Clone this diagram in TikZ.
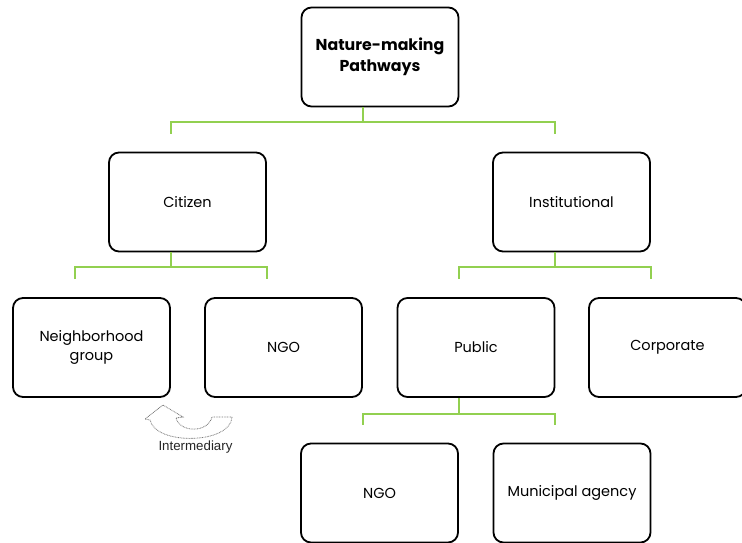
\documentclass[tikz,border=0pt]{standalone}
\usepackage{fontspec}
\setmainfont{Poppins}
\newfontfamily\smallsans{Liberation Sans}
\definecolor{lgreen}{RGB}{146,208,80}
\definecolor{dotgray}{RGB}{120,120,120}
\begin{document}
\begin{tikzpicture}[x=1pt,y=-1pt,
  box/.style={draw=black,line width=1.8pt,rounded corners=10pt,minimum width=157pt,minimum height=99pt,align=center,font=\fontsize{14.5}{19.5}\selectfont,fill=white,inner sep=0pt},
  conn/.style={draw=lgreen,line width=2pt},
  dotarrow/.style={draw=dotgray,line width=0.8pt,dash pattern=on 0.8pt off 0.8pt}]
\useasboundingbox (0,0) rectangle (742,543);
\fill[white] (0,0) rectangle (742,543);
% nodes
\node[box,font=\bfseries\fontsize{15.8}{21}\selectfont] (top) at (380,57) {Nature-making\\Pathways};
\node[box] (cit) at (187.5,202) {Citizen};
\node[box] (inst) at (571.5,202) {Institutional};
\node[box] (neigh) at (91.5,347.5) {Neighborhood\\group};
\node[box] (ngoa) at (283.5,347.5) {NGO};
\node[box] (pub) at (476,347.5) {Public};
\node[box] (corp) at (667.5,347.5) {Corporate};
\node[box] (ngob) at (379.5,493) {NGO};
\node[box] (mun) at (572,493) {Municipal agency};
% connectors
\draw[conn] ([xshift=-17pt]top.south) -- ([xshift=-17pt,yshift=-15pt]top.south);
\draw[conn] ([xshift=-17pt,yshift=18pt]cit.north) |- ([yshift=-15pt]top.south) -| ([xshift=-17pt,yshift=18pt]inst.north);
\draw[conn] ([xshift=-17pt]cit.south) -- ([xshift=-17pt,yshift=-15pt]cit.south);
\draw[conn] ([xshift=-17pt,yshift=18pt]neigh.north) |- ([yshift=-15pt]cit.south) -| ([xshift=-17pt,yshift=18pt]ngoa.north);
\draw[conn] ([xshift=-17pt]inst.south) -- ([xshift=-17pt,yshift=-15pt]inst.south);
\draw[conn] ([xshift=-17pt,yshift=18pt]pub.north) |- ([yshift=-15pt]inst.south) -| ([xshift=-17pt,yshift=18pt]corp.north);
\draw[conn] ([xshift=-17pt]pub.south) -- ([xshift=-17pt,yshift=-16pt]pub.south);
\draw[conn] ([xshift=-17pt,yshift=18pt]ngob.north) |- ([yshift=-16pt]pub.south) -| ([xshift=-17pt,yshift=18pt]mun.north);
% intermediary curved arrow
\draw[dotarrow] (232,417) .. controls (231,444) and (156,446) .. (150,420)
  -- (145,419) -- (163,405) -- (183,417) -- (176,418)
  .. controls (180,433) and (208,433) .. (212,417) -- cycle;
\node[font=\smallsans\fontsize{13.3}{15}\selectfont,text=black!85,inner sep=0pt] (interm) at (195.5,447) {Intermediary};
\end{tikzpicture}
\end{document}
